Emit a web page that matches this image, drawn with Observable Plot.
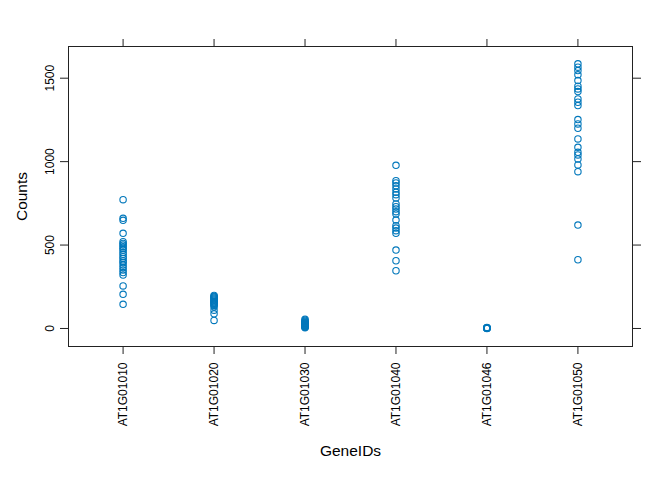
<!DOCTYPE html>
<html>
<head>
<meta charset="utf-8">
<script src="https://cdn.jsdelivr.net/npm/d3@7"></script>
<script src="https://cdn.jsdelivr.net/npm/@observablehq/plot@0.6"></script>
<style>
  html, body { margin: 0; padding: 0; background: #fff; }
  svg { font-family: "Liberation Sans", Arial, sans-serif; }
</style>
</head>
<body>
<div id="chart"></div>
<script>
const genes = ["AT1G01010", "AT1G01020", "AT1G01030", "AT1G01040", "AT1G01046", "AT1G01050"];
const countsAT1G01010 = [772, 660, 648, 570, 520, 510, 500, 490, 480, 470, 455, 445, 430, 420, 405, 395, 380, 365, 350, 335, 320, 255, 205, 145];
const countsAT1G01020 = [198, 192, 188, 182, 176, 170, 165, 160, 155, 150, 145, 138, 130, 110, 88, 48];
const countsAT1G01030 = [55, 48, 42, 38, 35, 30, 28, 25, 22, 20, 18, 15, 12, 10, 8, 5];
const countsAT1G01040 = [978, 886, 872, 856, 836, 816, 802, 782, 746, 730, 716, 700, 686, 650, 616, 602, 586, 570, 470, 406, 346];
const countsAT1G01046 = [0, 1, 2, 3, 4, 5, 6, 2, 1, 3];
const countsAT1G01050 = [1586, 1566, 1546, 1520, 1486, 1452, 1436, 1420, 1376, 1356, 1336, 1252, 1226, 1200, 1136, 1086, 1056, 1040, 1016, 980, 940, 620, 412];
const yTicks = [0, 500, 1000, 1500];

const series = [countsAT1G01010, countsAT1G01020, countsAT1G01030, countsAT1G01040, countsAT1G01046, countsAT1G01050];
const rows = genes.flatMap((g, i) => series[i].map(v => ({gene: g, count: v})));

const col = "#0077bb";
const chart = Plot.plot({
  width: 672,
  height: 480,
  marginLeft: 68,
  marginRight: 40,
  marginTop: 46,
  marginBottom: 134,
  style: {fontSize: "12px", fontFamily: "'Liberation Sans', Arial, sans-serif", background: "#fff"},
  x: {type: "point", domain: genes, padding: 0.6, round: false, label: null},
  y: {domain: [-108, 1690], label: null},
  marks: [
    Plot.frame({stroke: "#222", strokeWidth: 1}),
    Plot.axisX({anchor: "bottom", tickSize: 8, tickFormat: () => "", label: null, stroke: "#222"}),
    Plot.axisX({anchor: "top", tickSize: 8, tickFormat: () => "", label: null, stroke: "#222"}),
    Plot.axisY(yTicks, {anchor: "left", tickSize: 8, tickFormat: () => "", label: null, stroke: "#222"}),
    Plot.axisY(yTicks, {anchor: "right", tickSize: 8, tickFormat: () => "", label: null, stroke: "#222"}),
    Plot.text(yTicks, {y: d => d, text: d => String(d), frameAnchor: "left", dx: -18.5, rotate: -90, textAnchor: "middle", lineAnchor: "middle", fill: "#000", fontSize: 12}),
    Plot.text(genes, {x: d => d, text: d => d, frameAnchor: "bottom", dy: 16, rotate: -90, textAnchor: "end", lineAnchor: "middle", fill: "#000", fontSize: 12}),
    Plot.text(["Counts"], {text: d => d, frameAnchor: "left", dx: -46, rotate: -90, textAnchor: "middle", lineAnchor: "middle", fill: "#000", fontSize: 15.5}),
    Plot.text(["GeneIDs"], {text: d => d, frameAnchor: "bottom", dy: 105, textAnchor: "middle", lineAnchor: "middle", fill: "#000", fontSize: 15.5}),
    Plot.dot(rows, {x: "gene", y: "count", r: 3.2, stroke: col, strokeWidth: 1.1, fill: "none"})
  ]
});
document.getElementById("chart").appendChild(chart);
</script>
</body>
</html>
